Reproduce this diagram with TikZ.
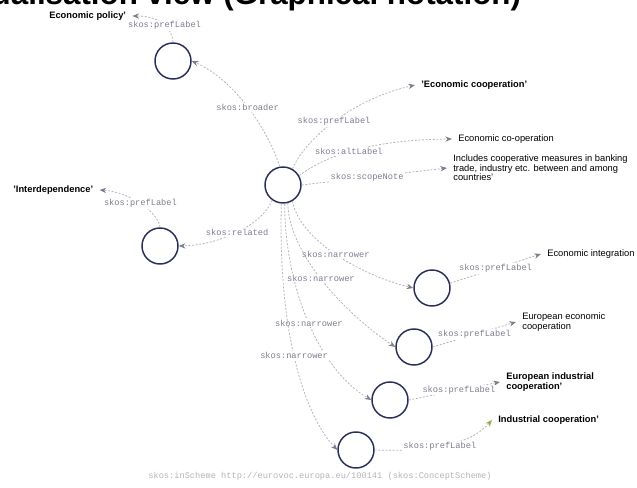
\documentclass[tikz,border=0pt]{standalone}
\usepackage{fontspec}
\setmainfont{Liberation Sans}
\setmonofont{Liberation Mono}
\usetikzlibrary{arrows.meta}
\definecolor{conceptblue}{RGB}{40,46,88}
\definecolor{linkgrey}{RGB}{180,180,188}
\definecolor{predgrey}{RGB}{125,125,145}
\definecolor{tipgreen}{RGB}{150,170,60}

\begin{document}
\begin{tikzpicture}[x=0.75pt,y=0.75pt,yscale=-1,xscale=1,
	concept/.style={draw=conceptblue,line width=1.1pt,circle,minimum size=27pt,inner sep=0pt},
	literal/.style={inner sep=0.75pt,outer sep=4pt,font=\fontsize{7}{7.2}\selectfont,align=left},
	preflit/.style={literal,font=\bfseries\fontsize{7}{7.2}\selectfont},
	link/.style={draw=linkgrey,line width=0.6pt,dash pattern=on 1.5pt off 1.2pt,-{Stealth[length=5pt,width=4pt,color=predgrey]}},
	predicate/.style={fill=white,inner sep=1pt,text=predgrey,font=\ttfamily\fontsize{6.5}{6.5}\selectfont}]
	\useasboundingbox (0,0) rectangle (637,488);
	
	% Title Node (cut off at the top)
	\begin{scope}
		\clip (0,0) rectangle (637,488);
		\draw (-55,5) node [anchor=base west][inner sep=0pt][font=\bfseries\fontsize{23.5}{24}\selectfont] (title) {Visualisation view (Graphical notation)};
	\end{scope}
	
	%Shape: Circle
	\draw (283,185) node [concept] (c0) {};
	\draw (173,61) node [concept] (c1) {};
	\draw (160,246) node [concept] (c2) {};
	\draw (432,288) node [concept] (c3) {};
	\draw (414,347) node [concept] (c4) {};
	\draw (390,400) node [concept] (c5) {};
	\draw (356,450) node [concept] (c6) {};
	
	% Text Node
	\draw (43,16) node [anchor=west][preflit] (policy) {Economic policy'};
	% Text Node
	\draw (415,85) node [anchor=west][preflit] (coop1) {'Economic cooperation'};
	% Text Node
	\draw (452,139) node [anchor=west][literal] (coop2) {Economic co-operation};
	% Text Node
	\draw (447,168) node [anchor=west][literal] (scope) {Includes cooperative measures in banking\\trade, industry etc. between and among\\countries'};
	% Text Node
	\draw (7,190) node [anchor=west][preflit] (interdep) {'Interdependence'};
	% Text Node
	\draw (541,254) node [anchor=west][literal] (integ) {Economic integration};
	% Text Node
	\draw (516,322) node [anchor=west][literal] (eurecon) {European economic\\cooperation};
	% Text Node
	\draw (500,382) node [anchor=west][preflit] (eurind) {European industrial\\cooperation'};
	% Text Node
	\draw (492,420) node [anchor=west][preflit] (indus) {Industrial cooperation'};
	% Text Node
	\draw (320,476) node [predicate][text=linkgrey] (scheme) {skos:inScheme  http://eurovoc.europa.eu/100141  (skos:ConceptScheme)};
	
	%Curve Lines
	\draw [link] (c0.100) .. controls (268,130) and (235,80) .. (c1.east) node [predicate,pos=.5] {skos:broader};
	\draw [link] (c1.north) .. controls (172,28) and (160,16) .. (policy.east) node [predicate,pos=.45] {skos:prefLabel};
	\draw [link] (c0.60) .. controls (305,140) and (350,100) .. (coop1.west) node [predicate,pos=.5] {skos:prefLabel};
	\draw [link] (c0.30) .. controls (320,160) and (360,140) .. (coop2.west) node [predicate,pos=.5] {skos:altLabel};
	\draw [link] (c0.235) .. controls (262,225) and (220,245) .. (c2.east) node [predicate,pos=.5] {skos:related};
	\draw [link] (c2.north) .. controls (158,212) and (130,192) .. (interdep.east) node [predicate,pos=.5] {skos:prefLabel};
	\draw [link] (c0.300) .. controls (300,240) and (360,275) .. (c3.west) node [predicate,pos=.5] {skos:narrower};
	\draw [link] (c0.285) .. controls (288,250) and (340,310) .. (c4.west) node [predicate,pos=.5] {skos:narrower};
	\draw [link] (c0.275) .. controls (285,290) and (320,370) .. (c5.west) node [predicate,pos=.5] {skos:narrower};
	\draw [link] (c0.265) .. controls (278,320) and (300,410) .. (c6.west) node [predicate,pos=.5] {skos:narrower};
	\draw [link,-{Stealth[length=5pt,width=4pt,color=tipgreen]}] (c6.east) .. controls (430,452) and (470,445) .. (indus.west) node [predicate,pos=.45] {skos:prefLabel};
	
	%Straight Lines
	\draw [link] (c0.east) -- (scope.west) node [predicate,pos=.45] {skos:scopeNote};
	\draw [link] (c3.15) -- (integ.west) node [predicate,pos=.5] {skos:prefLabel};
	\draw [link] (c4.east) -- (eurecon.west) node [predicate,pos=.5] {skos:prefLabel};
	\draw [link] (c5.east) -- (eurind.west) node [predicate,pos=.55] {skos:prefLabel};
\end{tikzpicture}
\end{document}
